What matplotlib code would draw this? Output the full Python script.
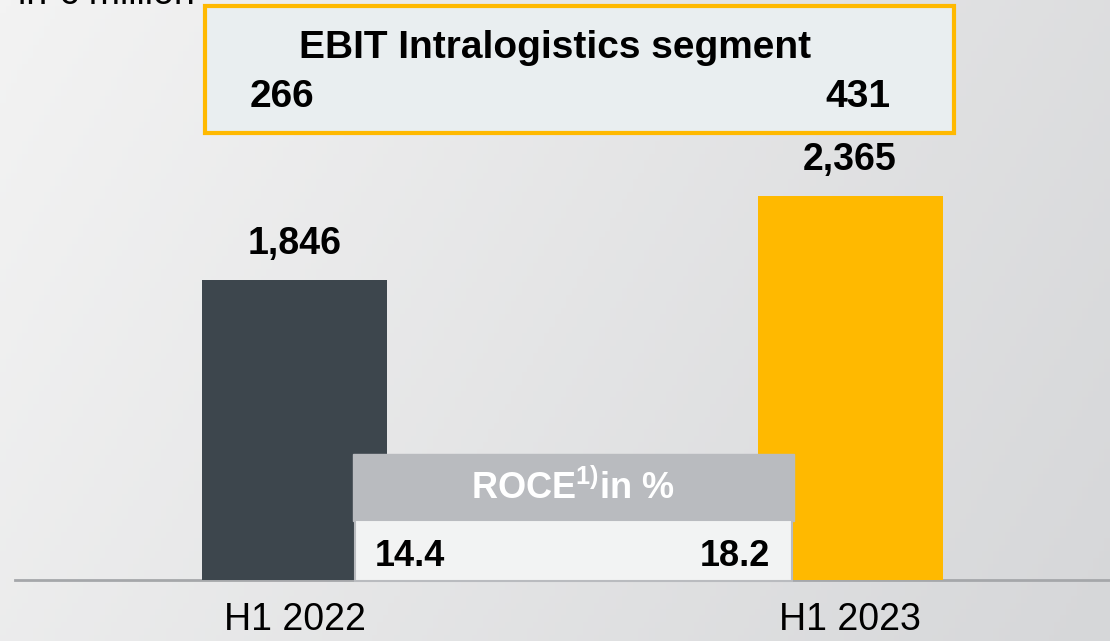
import numpy as np
import matplotlib.pyplot as plt
from matplotlib.patches import Rectangle
from matplotlib.colors import LinearSegmentedColormap

plt.rcParams['font.family'] = ['Liberation Sans', 'DejaVu Sans']
plt.rcParams['mathtext.fontset'] = 'custom'
plt.rcParams['mathtext.rm'] = 'Liberation Sans'
plt.rcParams['mathtext.bf'] = 'Liberation Sans:bold'

# data
periods = ["H1 2022", "H1 2023"]
revenue = [1846, 2365]
revenue_labels = ["1,846", "2,365"]
ebit = ["266", "431"]
roce = ["14.4", "18.2"]
bar_colors = ["#3d464d", "#ffb900"]

W, H = 1110, 641
fig = plt.figure(figsize=(W / 100, H / 100), dpi=100)

# background gradient
bg = fig.add_axes([0, 0, 1, 1], zorder=0)
gx = np.linspace(0, 1, 200)
gy = np.linspace(0, 1, 100)
grad = 0.75 * gx[None, :] + 0.25 * gy[:, None]
cmap = LinearSegmentedColormap.from_list("bg", ["#f3f3f3", "#d6d7d9"])
bg.imshow(grad, cmap=cmap, aspect="auto", extent=[0, 1, 0, 1], origin="upper")
bg.axis("off")

# bars: value 0 sits 61 px above the bottom, 0.1625 px per unit
scale = 0.1625
ax = fig.add_axes([0, 0, 1, 1], zorder=1)
ax.patch.set_visible(False)
ax.set_xlim(0, W)
ax.set_ylim(-61 / scale, (H - 61) / scale)
xpos = [294.5, 850]
ax.bar(xpos, revenue, width=185, color=bar_colors, zorder=2)
for x, v, lab in zip(xpos, revenue, revenue_labels):
    ax.text(x, v + 36 / scale, lab, ha="center", va="center",
            fontsize=27, fontweight="bold")
ax.axhline(0, xmin=15 / W, xmax=1, color="#a5a7aa", lw=2, zorder=1)
for x, p in zip(xpos, periods):
    ax.text(x, -40 / scale, p, ha="center", va="center", fontsize=27)
ax.axis("off")

# overlay boxes in pixel coordinates
ov = fig.add_axes([0, 0, 1, 1], zorder=3)
ov.patch.set_visible(False)
ov.set_xlim(0, W)
ov.set_ylim(H, 0)
ov.axis("off")

ov.text(18, 12, "in € million", ha="left", va="bottom", fontsize=27)

# EBIT box
ov.add_patch(Rectangle((205, 6), 749, 127, facecolor="#e9eef0",
                       edgecolor="#ffb900", lw=3))
ov.text(555, 48, "EBIT Intralogistics segment", ha="center", va="center",
        fontsize=28, fontweight="bold")
ov.text(282, 97, ebit[0], ha="center", va="center", fontsize=28, fontweight="bold")
ov.text(858, 97, ebit[1], ha="center", va="center", fontsize=28, fontweight="bold")

# ROCE box
ov.add_patch(Rectangle((353, 454), 441, 67, facecolor="#b9bbbf",
                       edgecolor="#b9bbbf", lw=1))
ov.add_patch(Rectangle((355, 520), 437, 61, facecolor="#f2f3f3",
                       edgecolor="#b9bbbf", lw=1.5))
ov.text(573, 488, r"ROCE$^{\mathbf{1)}}$in %", ha="center", va="center",
        fontsize=26, fontweight="bold", color="white")
ov.text(410, 556, roce[0], ha="center", va="center", fontsize=26, fontweight="bold")
ov.text(735, 556, roce[1], ha="center", va="center", fontsize=26, fontweight="bold")

fig.savefig("out.png", dpi=100)
